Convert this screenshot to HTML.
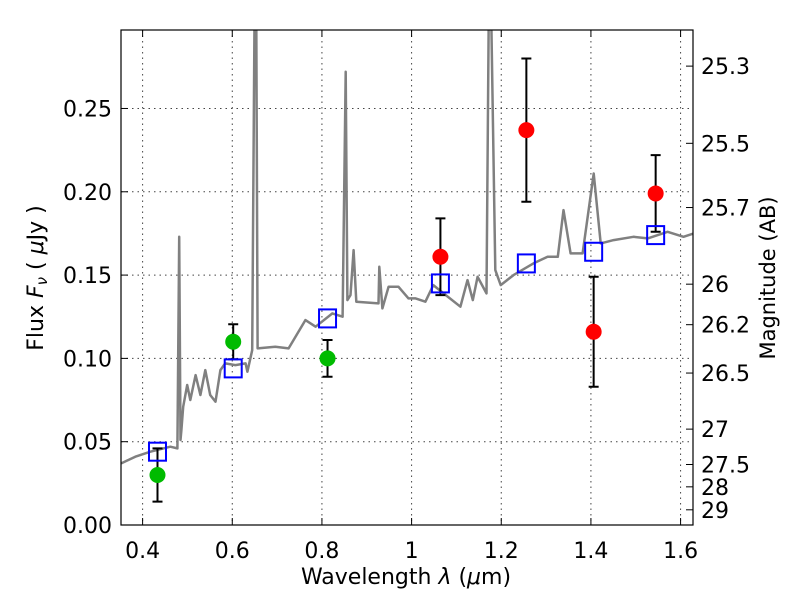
<!DOCTYPE html>
<html><head><meta charset="utf-8"><style>
body{margin:0;background:#fff;}
svg text{font-family:"DejaVu Sans","Liberation Sans",sans-serif;fill:#000;}
</style></head><body>
<svg id="chart" width="800" height="600" viewBox="0 0 800 600">
<defs><clipPath id="clip"><rect x="121" y="30" width="572" height="495"/></clipPath></defs>
<rect x="0" y="0" width="800" height="600" fill="#fff"/>
<g id="grid"></g>
<g id="spec" clip-path="url(#clip)"></g>
<g id="marks" clip-path="url(#clip)"></g>
<rect x="121" y="30" width="572" height="495" fill="none" stroke="#000" stroke-width="1.2"/>
<g id="axes"></g>
<text x="406" y="584" font-size="22" text-anchor="middle">Wavelength  <tspan font-style="italic">λ</tspan> (<tspan font-style="italic">μ</tspan>m)</text>
<text transform="translate(43,278) rotate(-90)" font-size="22" text-anchor="middle">Flux  <tspan font-style="italic">F</tspan><tspan font-style="italic" font-size="15" dy="4">ν</tspan><tspan dy="-4">   ( </tspan><tspan font-style="italic">μ</tspan>Jy )</text>
<text transform="translate(775,278) rotate(-90)" font-size="21" text-anchor="middle">Magnitude (AB)</text>
</svg>
<script>
const specWave=[0.3522,0.3838,0.4174,0.4618,0.4777,0.4816,0.4846,0.4865,0.4905,0.4994,0.5063,0.5181,0.5290,0.5399,0.5507,0.5626,0.5735,0.5843,0.6070,0.6297,0.6337,0.6445,0.6495,0.6535,0.6564,0.6959,0.7256,0.7631,0.7858,0.8233,0.8460,0.8530,0.8569,0.8638,0.8707,0.8767,0.9261,0.9280,0.9349,0.9488,0.9705,0.9932,1.0090,1.0308,1.0485,1.0713,1.1088,1.1246,1.1365,1.1473,1.1671,1.1720,1.1779,1.1868,1.1987,1.2273,1.2718,1.3034,1.3261,1.3389,1.3547,1.3814,1.4061,1.4219,1.4505,1.4950,1.5266,1.5710,1.6066,1.6293];
const specFlux=[0.037,0.041,0.044,0.047,0.046,0.173,0.051,0.057,0.071,0.084,0.075,0.090,0.078,0.093,0.078,0.074,0.093,0.097,0.096,0.097,0.092,0.105,0.303,0.303,0.106,0.107,0.106,0.123,0.119,0.127,0.125,0.272,0.135,0.138,0.165,0.134,0.133,0.155,0.130,0.143,0.143,0.136,0.136,0.134,0.144,0.139,0.131,0.147,0.135,0.149,0.139,0.303,0.303,0.153,0.144,0.150,0.157,0.161,0.161,0.189,0.163,0.163,0.211,0.169,0.171,0.173,0.172,0.176,0.173,0.175];
const bandWave=[0.4332,0.6021,0.8125,1.0643,1.2560,1.4061,1.5444];
const modelFlux=[0.044,0.094,0.124,0.145,0.157,0.164,0.174];
const obsFlux=[0.030,0.110,0.100,0.161,0.237,0.116,0.199];
const obsErr=[0.016,0.0105,0.011,0.023,0.043,0.033,0.023];
const obsColor=["#00bb00","#00bb00","#00bb00","#ff0000","#ff0000","#ff0000","#ff0000"];
const xTicks=[0.4,0.6,0.8,1.0,1.2,1.4,1.6];
const xTickLabels=["0.4","0.6","0.8","1","1.2","1.4","1.6"];
const yTicks=[0,0.05,0.10,0.15,0.20,0.25];
const yTickLabels=["0.00","0.05","0.10","0.15","0.20","0.25"];
const magTicks=[25.3,25.5,25.7,26,26.2,26.5,27,27.5,28,29];
const magTickLabels=["25.3","25.5","25.7","26","26.2","26.5","27","27.5","28","29"];

const X0=121,X1=693,Y0=525,Y1=30,xmin=0.3518,xmax=1.6277,ymin=0,ymax=0.2971;
const sx=v=>X0+(v-xmin)/(xmax-xmin)*(X1-X0);
const sy=v=>Y0-(v-ymin)/(ymax-ymin)*(Y0-Y1);
const NS="http://www.w3.org/2000/svg";
function mk(tag,attrs,parent){const e=document.createElementNS(NS,tag);for(const k in attrs)e.setAttribute(k,attrs[k]);parent.appendChild(e);return e;}
const grid=document.getElementById('grid'),axes=document.getElementById('axes'),spec=document.getElementById('spec'),marks=document.getElementById('marks');

xTicks.forEach((t,i)=>{
  const x=sx(t);
  const g=mk('line',{x1:x,x2:x,y1:Y1,y2:Y0,stroke:'#444','stroke-dasharray':'1.5,4','stroke-width':1},grid);
  
  
  const a=mk('line',{x1:x,x2:x,y1:Y0,y2:Y0-7,stroke:'#000'},axes);
  
  
  const b=mk('line',{x1:x,x2:x,y1:Y1,y2:Y1+7,stroke:'#000'},axes);
  
  
  const tx=mk('text',{x:x,y:Y0+33,'font-size':22,'text-anchor':'middle'},axes);
  tx.textContent=xTickLabels[i];
  
  
});
yTicks.forEach((t,i)=>{
  const y=sy(t);
  const g=mk('line',{x1:X0,x2:X1,y1:y,y2:y,stroke:'#444','stroke-dasharray':'1.5,4','stroke-width':1},grid);
  
  
  const a=mk('line',{x1:X0,x2:X0+7,y1:y,y2:y,stroke:'#000'},axes);
  
  
  const tx=mk('text',{x:X0-9,y:y+8,'font-size':22,'text-anchor':'end'},axes);
  tx.textContent=yTickLabels[i];
  
  
});
magTicks.forEach((m,i)=>{
  const y=sy(Math.pow(10,(23.9-m)/2.5));
  const a=mk('line',{x1:X1,x2:X1-7,y1:y,y2:y,stroke:'#000'},axes);
  
  
  const tx=mk('text',{x:X1+8,y:y+8,'font-size':22,'text-anchor':'start'},axes);
  tx.textContent=magTickLabels[i];
  
  
});

const d=specWave.map((w,i)=>(i?'L':'M')+sx(w).toFixed(1)+','+sy(specFlux[i]).toFixed(1)).join(' ');
const sp=mk('path',{d:d,fill:'none',stroke:'#808080','stroke-width':2.5,'stroke-linejoin':'round'},spec);



bandWave.forEach((w,i)=>{
  const x=sx(w),y=sy(obsFlux[i]),yt=sy(obsFlux[i]+obsErr[i]),yb=sy(obsFlux[i]-obsErr[i]);
  const eb=mk('path',{d:`M${x},${yt}L${x},${yb}M${x-5},${yt}L${x+5},${yt}M${x-5},${yb}L${x+5},${yb}`,stroke:'#000','stroke-width':2,fill:'none'},marks);
  
  
  const c=mk('circle',{cx:x,cy:y,r:8,fill:obsColor[i]},marks);
  
  
  const ym=sy(modelFlux[i]);
  const r=mk('rect',{x:x-8.5,y:ym-9,width:17,height:18,fill:'none',stroke:'#0000ff','stroke-width':2},marks);
  
  
});
</script>
</body></html>
